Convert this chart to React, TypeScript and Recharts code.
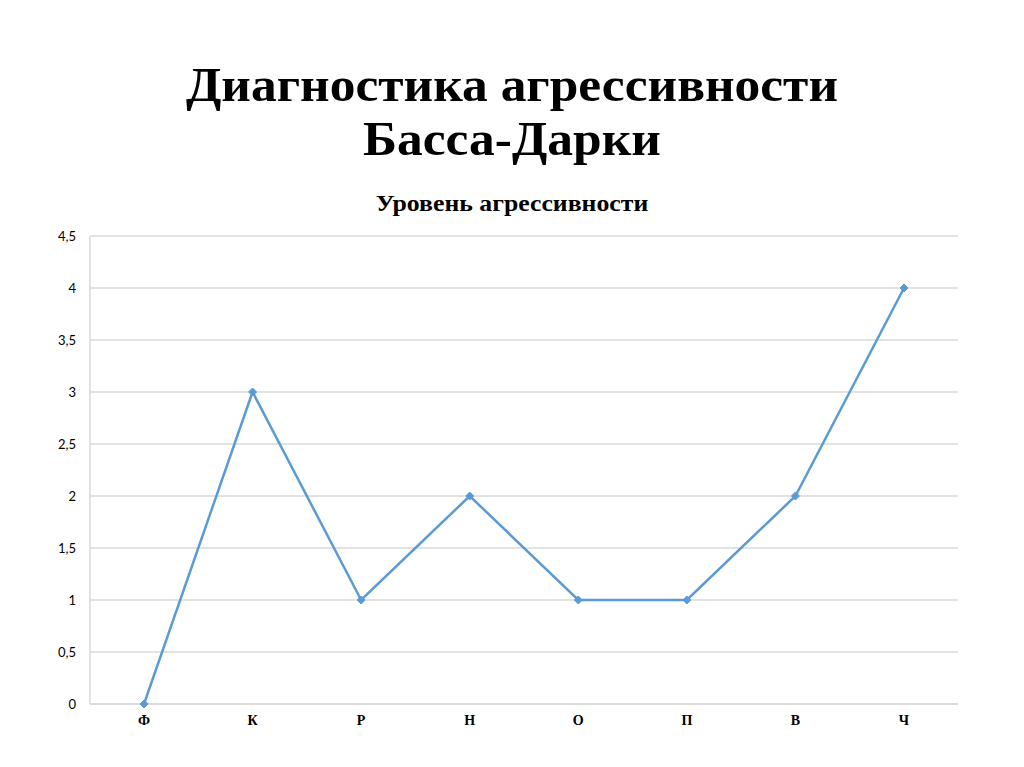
import React from 'react';
import { LineChart, Line, XAxis, YAxis, CartesianGrid } from 'recharts';

const categories = ['Ф', 'К', 'Р', 'Н', 'О', 'П', 'В', 'Ч'];
const levels = [0, 3, 1, 2, 1, 1, 2, 4];
const yTicks = [0, 0.5, 1, 1.5, 2, 2.5, 3, 3.5, 4, 4.5];

const data = categories.map((name, i) => ({ name, value: levels[i] }));

const fmt = (v: number) => String(v).replace('.', ',');

const Diamond = (props: any) => {
    const { cx, cy } = props;
    if (cx == null || cy == null) return null;
    const r = 4;
    return (
        <polygon
            points={`${cx},${cy - r} ${cx + r},${cy} ${cx},${cy + r} ${cx - r},${cy}`}
            fill="#5B9BD5"
            stroke="#5B9BD5"
        />
    );
};

export default function App() {
    return (
        <div style={{ position: 'relative', width: 1024, height: 767, margin: -8, background: '#fff', overflow: 'hidden' }}>
            <div
                style={{
                    position: 'absolute',
                    top: 58,
                    left: 0,
                    width: 1024,
                    textAlign: 'center',
                    fontFamily: '"Liberation Serif", serif',
                    fontWeight: 'bold',
                    fontSize: 49,
                    lineHeight: '54px',
                    color: '#000',
                    transform: 'scaleX(1.05)',
                }}
            >
                Диагностика агрессивности
                <br />
                Басса-Дарки
            </div>
            <div
                style={{
                    position: 'absolute',
                    top: 190,
                    left: 0,
                    width: 1024,
                    textAlign: 'center',
                    fontFamily: '"Liberation Serif", serif',
                    fontWeight: 'bold',
                    fontSize: 23,
                    lineHeight: '28px',
                    color: '#000',
                    transform: 'scaleX(1.12)',
                }}
            >
                Уровень агрессивности
            </div>
            <div style={{ position: 'absolute', top: 0, left: 0 }}>
                <LineChart width={1024} height={767} data={data} margin={{ top: 236, right: 66, bottom: 33, left: 0 }}>
                    <CartesianGrid vertical={false} stroke="#D9D9D9" strokeWidth={1.5} />
                    <XAxis
                        dataKey="name"
                        height={30}
                        padding={{ left: 54, right: 54 }}
                        axisLine={{ stroke: '#D9D9D9', strokeWidth: 1.5 }}
                        tickLine={false}
                        tickMargin={5}
                        tick={{ fill: '#000', fontFamily: '"Liberation Serif", serif', fontWeight: 'bold', fontSize: 14 }}
                    />
                    <YAxis
                        width={90}
                        domain={[0, 4.5]}
                        ticks={yTicks}
                        tickFormatter={fmt}
                        axisLine={{ stroke: '#D9D9D9', strokeWidth: 1.5 }}
                        tickLine={false}
                        tickMargin={8}
                        tick={{ fill: '#000', fontFamily: 'Lato, sans-serif', fontSize: 13 }}
                    />
                    <Line
                        type="linear"
                        dataKey="value"
                        stroke="#5B9BD5"
                        strokeWidth={2.5}
                        dot={<Diamond />}
                        activeDot={false}
                        isAnimationActive={false}
                    />
                </LineChart>
            </div>
        </div>
    );
}
